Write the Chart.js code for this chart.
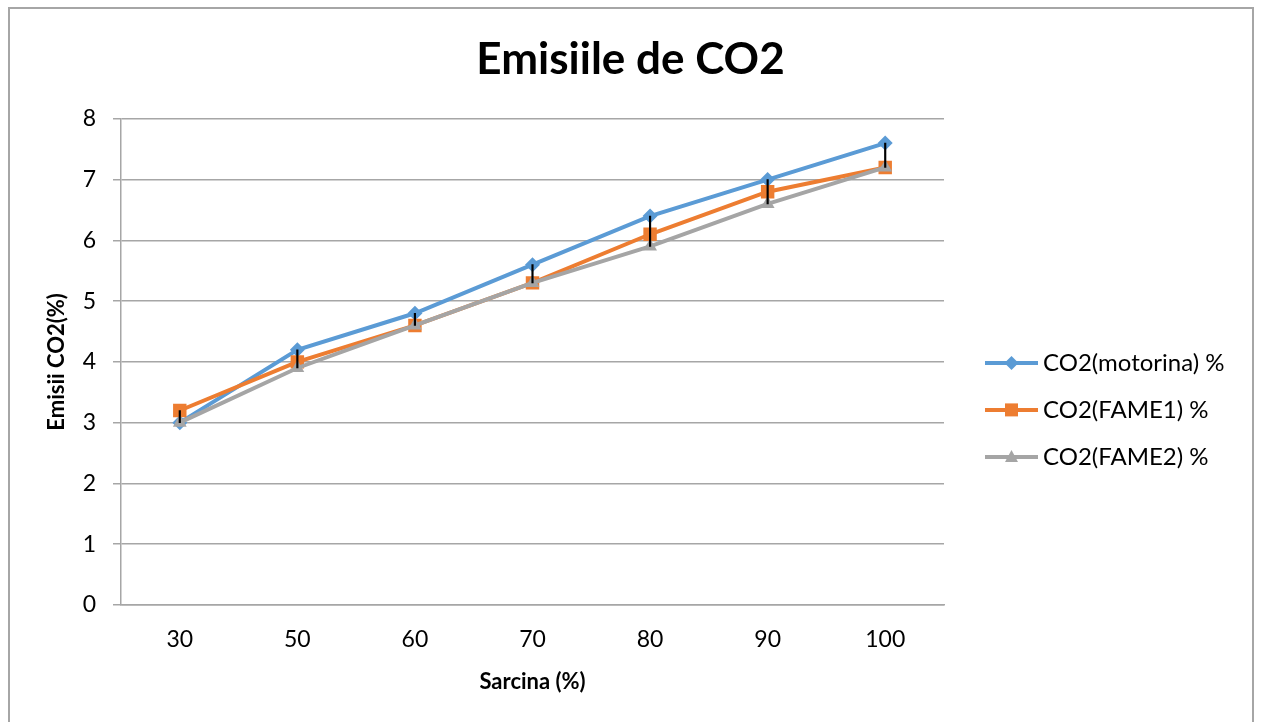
<!DOCTYPE html>
<html>
<head>
<meta charset="utf-8">
<script src="https://cdn.jsdelivr.net/npm/chart.js@4/dist/chart.umd.min.js"></script>
<style>
    html, body { margin: 0; padding: 0; background: #fff; overflow: hidden; }
    #frame { position: absolute; left: 8px; top: 7px; width: 1246px; height: 740px; border: 2px solid #a6a6a6; box-sizing: border-box; }
    #wrap { position: absolute; left: 0; top: 0; width: 1261px; height: 722px; }
</style>
</head>
<body>
<div id="frame"></div>
<div id="wrap"><canvas id="chartCO2" width="1261" height="722"></canvas></div>
<script>
// date
let sarcina = ['30', '50', '60', '70', '80', '90', '100'];
let co2Motorina = [3.0, 4.2, 4.8, 5.6, 6.4, 7.0, 7.6];
let co2Fame1 = [3.2, 4.0, 4.6, 5.3, 6.1, 6.8, 7.2];
let co2Fame2 = [3.0, 3.9, 4.6, 5.3, 5.9, 6.6, 7.2];
let etichete = ['CO2(motorina) %', 'CO2(FAME1) %', 'CO2(FAME2) %'];
let culori = ['#5B9BD5', '#ED7D31', '#A5A5A5'];

// linii max-min (high-low) pe fiecare categorie
let hiLo = sarcina.map(function (s, i) {
    var v = [co2Motorina[i], co2Fame1[i], co2Fame2[i]];
    return [Math.min.apply(null, v), Math.max.apply(null, v)];
});

var fontName = 'Lato, "Open Sans", sans-serif';

// legenda desenata manual: linie + marker
var legendaPlugin = {
    id: 'legenda',
    afterDraw: function (chart) {
        var ctx = chart.ctx;
        var area = chart.chartArea;
        var cy = (area.top + area.bottom) / 2;
        var x0 = area.right + 41;
        var x1 = x0 + 53;
        var xm = (x0 + x1) / 2;
        [0, 1, 2].forEach(function (k) {
            var y = cy + 1 + k * 47;
            ctx.save();
            ctx.strokeStyle = culori[k];
            ctx.fillStyle = culori[k];
            ctx.lineWidth = 4;
            ctx.beginPath();
            ctx.moveTo(x0, y);
            ctx.lineTo(x1, y);
            ctx.stroke();
            ctx.beginPath();
            if (k === 0) {
                ctx.moveTo(xm, y - 7); ctx.lineTo(xm + 7, y); ctx.lineTo(xm, y + 7); ctx.lineTo(xm - 7, y);
            } else if (k === 1) {
                ctx.rect(xm - 6.5, y - 6.5, 13, 13);
            } else {
                ctx.moveTo(xm, y - 7); ctx.lineTo(xm + 6.5, y + 5); ctx.lineTo(xm - 6.5, y + 5);
            }
            ctx.closePath();
            ctx.fill();
            ctx.fillStyle = '#000';
            ctx.font = '24px ' + fontName;
            ctx.textBaseline = 'middle';
            ctx.textAlign = 'left';
            ctx.fillText(etichete[k], x1 + 5, y);
            ctx.restore();
        });
    }
};

function mostrar_grafico() {
    new Chart(document.getElementById('chartCO2'), {
        data: {
            labels: sarcina,
            datasets: [
                {
                    type: 'line', label: etichete[0], data: co2Motorina, order: 3,
                    borderColor: culori[0], backgroundColor: culori[0], borderWidth: 4,
                    pointStyle: 'rectRot', pointRadius: 7.5, pointBorderWidth: 0
                },
                {
                    type: 'line', label: etichete[1], data: co2Fame1, order: 2,
                    borderColor: culori[1], backgroundColor: culori[1], borderWidth: 4,
                    pointStyle: 'rect', pointRadius: 9.5, pointBorderWidth: 0
                },
                {
                    type: 'line', label: etichete[2], data: co2Fame2, order: 1,
                    borderColor: culori[2], backgroundColor: culori[2], borderWidth: 4,
                    pointStyle: 'triangle', pointRadius: 8, pointBorderWidth: 0
                },
                {
                    type: 'bar', label: 'hilo', data: hiLo, order: 0,
                    backgroundColor: '#000', barThickness: 1.5, borderWidth: 0
                }
            ]
        },
        options: {
            responsive: false,
            animation: false,
            layout: { padding: 0 },
            plugins: {
                legend: { display: false },
                tooltip: { enabled: false },
                title: {
                    display: true,
                    text: 'Emisiile de CO2',
                    color: '#000',
                    font: { family: fontName, size: 44, weight: 'bold', lineHeight: 1.2 },
                    padding: { top: 33, bottom: 33 }
                }
            },
            scales: {
                x: {
                    offset: true,
                    grid: { display: false, drawTicks: false },
                    border: { display: true, color: '#a6a6a6', width: 1.5 },
                    ticks: { color: '#000', font: { family: fontName, size: 23 }, padding: 21 },
                    title: {
                        display: true, text: 'Sarcina (%)', color: '#000',
                        font: { family: fontName, size: 22, weight: 'bold', lineHeight: 1.2 },
                        padding: { top: 0, bottom: 27 }
                    },
                    afterFit: function (scale) { scale.height = 117; }
                },
                y: {
                    min: 0, max: 8,
                    ticks: { stepSize: 1, color: '#000', font: { family: fontName, size: 23 }, padding: 17 },
                    grid: { color: '#a6a6a6', lineWidth: 1.5, tickLength: 8 },
                    border: { display: true, color: '#a6a6a6', width: 1.5 },
                    title: {
                        display: true, text: 'Emisii CO2(%)', color: '#000',
                        font: { family: fontName, size: 22, weight: 'bold', lineHeight: 1.2 },
                        padding: { top: 44, bottom: 0 }
                    },
                    afterFit: function (scale) { scale.width = 121; }
                },
                // spatiu pentru legenda din dreapta
                yLegenda: {
                    type: 'linear', position: 'right', display: true,
                    grid: { display: false, drawTicks: false },
                    border: { display: false },
                    ticks: { display: false },
                    afterFit: function (scale) { scale.width = 317; }
                }
            }
        },
        plugins: [legendaPlugin]
    });
}

mostrar_grafico();
</script>
</body>
</html>
